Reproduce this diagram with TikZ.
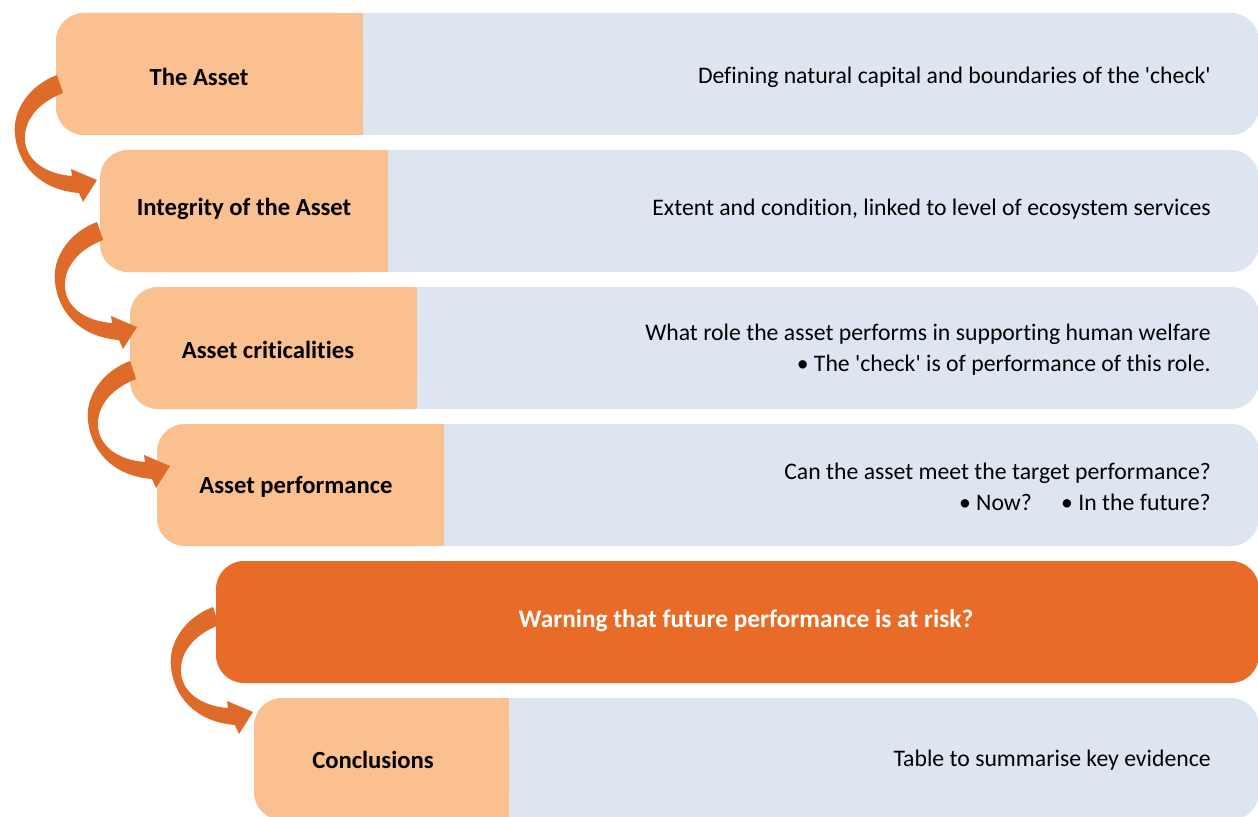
\documentclass[tikz,border=0pt]{standalone}
\usepackage{fontspec}
\setmainfont{Carlito}[Ligatures={TeX,NoCommon}]
\usetikzlibrary{arrows.meta,calc}
\definecolor{lorange}{HTML}{FBC08F}
\definecolor{lblue}{HTML}{DCE5F0}
\definecolor{dorange}{HTML}{E86C28}
\definecolor{arrcol}{HTML}{DE6B2A}
\tikzset{
  blueband/.style={fill=lblue, rounded corners=21pt},
  orangeband/.style={fill=lorange, rounded corners=21pt},
  warnband/.style={fill=dorange, rounded corners=21pt},
  steplabel/.style={font=\fontsize{18.5pt}{20pt}\selectfont\bfseries, text=black, inner sep=0pt},
  desclabel/.style={font=\fontsize{17.8pt}{23.25pt}\selectfont, text=black, inner sep=0pt, anchor=east, align=right},
  warnlabel/.style={font=\fontsize{19pt}{20pt}\selectfont\bfseries, text=white, inner sep=0pt},
  flowarrow/.style={fill=arrcol}
}
\newcommand\sq{\textquotesingle}
% curved tapered arrow whose tip is at the named coordinate #1
\newcommand\flowto[1]{%
  \fill[flowarrow, shift={(#1)}]
    (-40,-105) .. controls (-67,-95) and (-85,-70) .. (-82,-45)
    .. controls (-79,-15) and (-57,10) .. (-18,13)
    -- (-14,22) -- (0,0) -- (-26,-11) -- (-25,-4)
    .. controls (-52,-6) and (-71,-20) .. (-72,-40)
    .. controls (-73,-60) and (-59,-77) .. (-34,-87) -- cycle;}
\begin{document}
\begin{tikzpicture}[x=0.75pt,y=-0.75pt]
\useasboundingbox (0,0) rectangle (1258,817);
% row bands: left, top, split
\foreach \l/\t/\s in {56/13/363, 100/150/388, 130/287/417, 157/424/444, 254/698/509}{
  \fill[blueband] (\l,\t) rectangle (1259,\t+122);
  \fill[orangeband] (\l,\t) rectangle (\s,\t+122);
  \fill[lorange] (\s-30,\t) rectangle (\s,\t+122);
}
\fill[warnband] (216,561) rectangle (1259,683);
% labels
\node[steplabel] (n1) at (199,77) {The Asset};
\node[steplabel] (n2) at (244,209) {Integrity of the Asset};
\node[steplabel] (n3) at (268,350) {Asset criticalities};
\node[steplabel] (n4) at (296,487) {Asset performance};
\node[warnlabel] (n5) at (746,621) {Warning that future performance is at risk?};
\node[steplabel] (n6) at (373,760) {Conclusions};
\node[desclabel] (d1) at (1211,77) {Defining natural capital and boundaries of the \sq check\sq};
\node[desclabel] (d2) at (1211,209) {Extent and condition, linked to level of ecosystem services};
\node[desclabel] (d3) at (1211,350) {What role the asset performs in supporting human welfare\hspace{5pt}\\ • The \sq check\sq{} is of performance of this role.};
\node[desclabel] (d4) at (1211,487) {Can the asset meet the target performance?\\ • Now?\hspace{22pt}• In the future?};
\node[desclabel] (d6) at (1211,760) {Table to summarise key evidence};
% connector tips (at the left edge of the next step)
\coordinate (t1) at (97,180);
\coordinate (t2) at (137,327);
\coordinate (t3) at (170,466);
\coordinate (t5) at (253,712);
\flowto{t1}
\flowto{t2}
\flowto{t3}
\flowto{t5}
\end{tikzpicture}
\end{document}
